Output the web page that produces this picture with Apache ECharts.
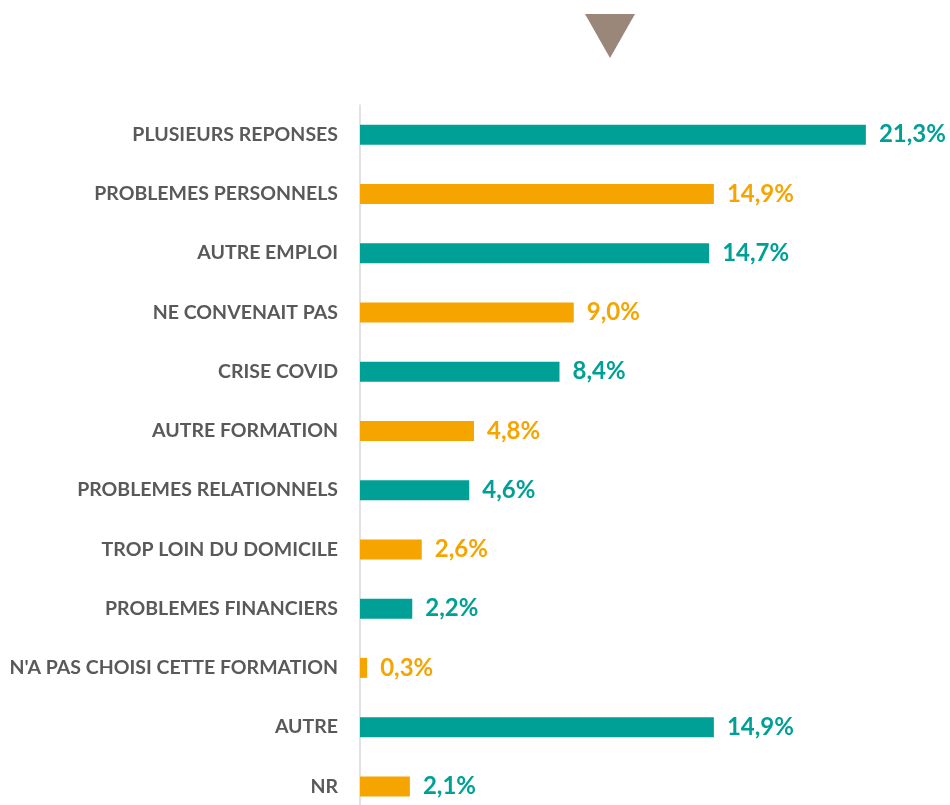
<!DOCTYPE html>
<html lang="fr">
<head>
    <meta charset="UTF-8">
    <title>Raisons d'abandon</title>
    <script src="https://cdn.jsdelivr.net/npm/echarts@6/dist/echarts.min.js"></script>
    <style>
        html, body { margin: 0; padding: 0; background: #ffffff; }
    </style>
</head>
<body>
    <div id="main" style="width: 950px; height: 805px;"></div>
    <script type="text/javascript">
        // categories (top to bottom) and their shares in %
        var categories = [
            'PLUSIEURS REPONSES',
            'PROBLEMES PERSONNELS',
            'AUTRE EMPLOI',
            'NE CONVENAIT PAS',
            'CRISE COVID',
            'AUTRE FORMATION',
            'PROBLEMES RELATIONNELS',
            'TROP LOIN DU DOMICILE',
            'PROBLEMES FINANCIERS',
            "N'A PAS CHOISI CETTE FORMATION",
            'AUTRE',
            'NR'
        ];
        var values = [21.3, 14.9, 14.7, 9.0, 8.4, 4.8, 4.6, 2.6, 2.2, 0.3, 14.9, 2.1];

        var teal = '#00a096';
        var orange = '#f5a400';

        var chart = echarts.init(document.getElementById('main'));

        var seriesData = values.map(function (v, i) {
            var c = i % 2 === 0 ? teal : orange;
            // the NR label is teal in the original
            var lc = categories[i] === 'NR' ? teal : c;
            return {
                value: v,
                itemStyle: { color: c },
                label: { color: lc }
            };
        });

        var option = {
            animation: false,
            grid: {
                left: 360,
                top: 105,
                width: 570,
                height: 711,
                outerBoundsMode: 'none'
            },
            xAxis: {
                type: 'value',
                min: 0,
                max: 24,
                show: false
            },
            yAxis: {
                type: 'category',
                inverse: true,
                data: categories,
                axisLine: { show: true, lineStyle: { color: '#d9d9d9', width: 1.5 } },
                axisTick: { show: false },
                axisLabel: {
                    margin: 22,
                    color: '#595959',
                    fontFamily: 'Lato',
                    fontWeight: 'bold',
                    fontSize: 19.5
                }
            },
            series: [{
                type: 'bar',
                barWidth: 20,
                data: seriesData,
                label: {
                    show: true,
                    position: 'right',
                    distance: 13,
                    fontFamily: 'Lato',
                    fontWeight: 'bold',
                    fontSize: 24
                    ,
                    formatter: function (p) {
                        return p.value.toFixed(1).replace('.', ',') + '%';
                    }
                }
            }],
            graphic: [{
                type: 'polygon',
                shape: { points: [[585, 14], [635, 14], [610, 58]] },
                style: { fill: '#9b867a' }
            }]
        };
        chart.setOption(option);
    </script>
</body>
</html>
